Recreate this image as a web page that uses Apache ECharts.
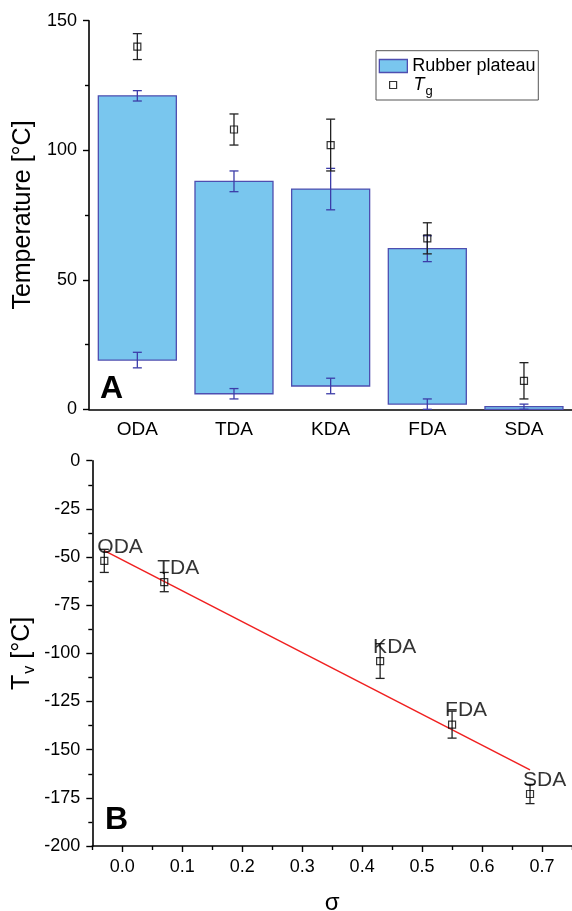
<!DOCTYPE html>
<html>
<head>
<meta charset="utf-8">
<script src="https://cdn.jsdelivr.net/npm/echarts@6/dist/echarts.min.js"></script>
<style>
html,body{margin:0;padding:0;background:#fff;}
#main{width:572px;height:911px;}
</style>
</head>
<body>
<div id="main"></div>
<script>
// ---- Panel A data ----
const categories = ['ODA', 'TDA', 'KDA', 'FDA', 'SDA'];
const plateauLow = [19, 6, 9, 2, 0];
const plateauLowErr = [3, 2, 3, 2, 0];
const plateauHigh = [121, 88, 85, 62, 1];
const plateauHighErr = [2, 4, 8, 5, 1];
const tgValues = [140, 108, 102, 66, 11];
const tgErr = [5, 6, 10, 6, 7];
const yTicksA = [0, 50, 100, 150];

// ---- Panel B data ----
const sigma = [-0.03, 0.07, 0.43, 0.55, 0.68];
const tv = [-52, -63, -104, -137, -173];
const tvErr = [6, 5, 9, 7, 5];
const tvLabels = ['ODA', 'TDA', 'KDA', 'FDA', 'SDA'];
const fitSigma = [-0.03, 0.68];
const fitTv = [-46.7, -160.5];
const xTicksB = [0, 0.1, 0.2, 0.3, 0.4, 0.5, 0.6, 0.7];
const xMinorTicksB = [-0.05, 0.05, 0.15, 0.25, 0.35, 0.45, 0.55, 0.65, 0.75];

const FONT = 'Liberation Sans, Arial, Helvetica, sans-serif';
const BAR_FILL = '#79C6EE';
const BAR_EDGE = '#4e4eb0';
const BAR_ERR = '#3c3ca8';

const chart = echarts.init(document.getElementById('main'), null, {renderer: 'canvas'});

function errRender(color, capW) {
  return function (params, api) {
    const x = api.value(0), v = api.value(1), e = api.value(2);
    if (!e) return null;
    const top = api.coord([x, v + e]);
    const bot = api.coord([x, v - e]);
    const st = {stroke: color, lineWidth: 1.3, fill: null};
    return {
      type: 'group',
      children: [
        {type: 'line', shape: {x1: top[0], y1: top[1], x2: bot[0], y2: bot[1]}, style: st},
        {type: 'line', shape: {x1: top[0] - capW / 2, y1: top[1], x2: top[0] + capW / 2, y2: top[1]}, style: st},
        {type: 'line', shape: {x1: bot[0] - capW / 2, y1: bot[1], x2: bot[0] + capW / 2, y2: bot[1]}, style: st}
      ]
    };
  };
}

const barData = categories.map((c, i) => [i, plateauLow[i], plateauHigh[i]]);
const barErrData = [];
categories.forEach((c, i) => {
  barErrData.push([i, plateauHigh[i], plateauHighErr[i]]);
  barErrData.push([i, plateauLow[i], plateauLowErr[i]]);
});
const tgData = categories.map((c, i) => [i, tgValues[i]]);
const tgErrData = categories.map((c, i) => [i, tgValues[i], tgErr[i]]);

const bData = sigma.map((s, i) => ({value: [s, tv[i]], label: {formatter: tvLabels[i]}}));
const bErrData = sigma.map((s, i) => [s, tv[i], tvErr[i]]);
const fitData = fitSigma.map((s, i) => [s, fitTv[i]]);

const axisLineStyle = {color: '#000', width: 1.6};
const tickStyle = {color: '#000', width: 1.4};
const labelStyle = {color: '#000', fontSize: 18, fontFamily: FONT};

const gridA = {left: 89, top: 20.7, width: 483.3, height: 388.6, outerBoundsMode: 'none', containLabel: false};
const gridB = {left: 92.3, top: 460.7, width: 479.7, height: 385.3, outerBoundsMode: 'none', containLabel: false};

const option = {
  animation: false,
  backgroundColor: '#fff',
  textStyle: {fontFamily: FONT},
  grid: [gridA, gridB, Object.assign({}, gridB)],
  xAxis: [
    {
      type: 'category', gridIndex: 0, data: categories,
      axisLine: {lineStyle: axisLineStyle},
      axisTick: {alignWithLabel: true, length: 7, lineStyle: tickStyle},
      axisLabel: {margin: 11, fontSize: 19, color: '#000', fontFamily: FONT},
      splitLine: {show: false}
    },
    {
      type: 'value', gridIndex: 1, min: -0.05, max: 0.75,
      name: 'σ', nameLocation: 'middle', nameGap: 45, nameMoveOverlap: false,
      nameTextStyle: {fontSize: 24, color: '#000', fontFamily: FONT},
      axisLine: {onZero: false, lineStyle: axisLineStyle},
      axisTick: {length: 6, lineStyle: tickStyle, customValues: xTicksB},
      axisLabel: Object.assign({margin: 12, customValues: xTicksB, formatter: v => v.toFixed(1)}, labelStyle),
      splitLine: {show: false}
    },
    {
      type: 'value', gridIndex: 2, min: -0.05, max: 0.75, position: 'bottom',
      axisLine: {show: false, onZero: false},
      axisTick: {length: 4, lineStyle: tickStyle, customValues: xMinorTicksB},
      axisLabel: {show: false},
      splitLine: {show: false}
    }
  ],
  yAxis: [
    {
      type: 'value', gridIndex: 0, min: 0, max: 150, interval: 50,
      name: 'Temperature [°C]', nameLocation: 'middle', nameGap: 53, nameMoveOverlap: false,
      nameTextStyle: {fontSize: 25, color: '#000', fontFamily: FONT},
      axisLine: {show: true, lineStyle: axisLineStyle},
      axisTick: {show: true, length: 6, lineStyle: tickStyle},
      minorTick: {show: true, splitNumber: 2, length: 4, lineStyle: tickStyle},
      axisLabel: Object.assign({margin: 12}, labelStyle),
      splitLine: {show: false}
    },
    {
      type: 'value', gridIndex: 1, min: -200, max: 0, interval: 25,
      name: '{a|T}{b|v}{a| [°C]}', nameLocation: 'middle', nameGap: 55, nameMoveOverlap: false,
      nameTextStyle: {
        color: '#000', fontFamily: FONT,
        rich: {
          a: {fontSize: 25, color: '#000', fontFamily: FONT},
          b: {fontSize: 16, color: '#000', fontFamily: FONT, padding: [14, 0, 0, 1]}
        }
      },
      axisLine: {show: true, onZero: false, lineStyle: axisLineStyle},
      axisTick: {show: true, length: 6, lineStyle: tickStyle},
      minorTick: {show: true, splitNumber: 2, length: 4, lineStyle: tickStyle},
      axisLabel: Object.assign({margin: 12}, labelStyle),
      splitLine: {show: false}
    },
    {
      type: 'value', gridIndex: 2, min: -200, max: 0, show: false
    }
  ],
  legend: [
    {
      left: 378.7, top: 57, padding: 0, itemWidth: 28, itemHeight: 13, selectedMode: false,
      textStyle: {fontSize: 18, color: '#000', fontFamily: FONT},
      data: [{name: 'Rubber plateau', icon: 'rect', itemStyle: {color: BAR_FILL, borderColor: BAR_EDGE, borderWidth: 1.3}}]
    },
    {
      left: 389, top: 76, padding: 0, itemWidth: 7, itemHeight: 7, selectedMode: false,
      textStyle: {
        color: '#000', fontFamily: FONT, padding: [0, 0, 0, 12],
        rich: {
          t: {fontSize: 18, fontStyle: 'italic', color: '#000', fontFamily: FONT},
          s: {fontSize: 13, color: '#000', fontFamily: FONT, padding: [12, 0, 0, 1]}
        }
      },
      formatter: () => '{t|T}{s|g}',
      data: [{name: 'Tg', icon: 'rect', itemStyle: {color: 'rgba(255,255,255,0)', borderColor: '#000', borderWidth: 1.2}}]
    }
  ],
  graphic: [
    {type: 'rect', shape: {x: 376, y: 50.7, width: 162.3, height: 49.3}, style: {fill: 'none', stroke: '#555', lineWidth: 1}, z: 10},
    {type: 'text', x: 100, y: 389.5, style: {text: 'A', font: 'bold 32px ' + FONT, fill: '#000', verticalAlign: 'middle'}, z: 10},
    {type: 'text', x: 105, y: 820.5, style: {text: 'B', font: 'bold 32px ' + FONT, fill: '#000', verticalAlign: 'middle'}, z: 10}
  ],
  series: [
    {
      name: 'Rubber plateau', type: 'custom', xAxisIndex: 0, yAxisIndex: 0,
      itemStyle: {color: BAR_FILL, borderColor: BAR_EDGE, borderWidth: 1.3},
      encode: {x: 0, y: [1, 2]},
      data: barData,
      renderItem: function (params, api) {
        const i = api.value(0);
        const lo = api.coord([i, api.value(1)]);
        const hi = api.coord([i, api.value(2)]);
        const bw = api.size([1, 0])[0] * 0.807;
        return {
          type: 'rect',
          shape: {x: hi[0] - bw / 2, y: hi[1], width: bw, height: lo[1] - hi[1]},
          style: {fill: BAR_FILL, stroke: BAR_EDGE, lineWidth: 1.3}
        };
      }
    },
    {
      name: 'plateauErr', type: 'custom', xAxisIndex: 0, yAxisIndex: 0, z: 3,
      encode: {x: 0, y: 1},
      data: barErrData,
      renderItem: errRender(BAR_ERR, 9)
    },
    {
      name: 'tgErr', type: 'custom', xAxisIndex: 0, yAxisIndex: 0, z: 3,
      encode: {x: 0, y: 1},
      data: tgErrData,
      renderItem: errRender('#222', 9)
    },
    {
      name: 'Tg', type: 'scatter', xAxisIndex: 0, yAxisIndex: 0, z: 4,
      symbol: 'rect', symbolSize: 7,
      itemStyle: {color: 'rgba(255,255,255,0)', borderColor: '#000', borderWidth: 1.2},
      data: tgData
    },
    {
      name: 'fit', type: 'line', xAxisIndex: 1, yAxisIndex: 1, z: 2,
      showSymbol: false, symbol: 'none',
      lineStyle: {color: '#f02020', width: 1.5},
      data: fitData
    },
    {
      name: 'tvErr', type: 'custom', xAxisIndex: 1, yAxisIndex: 1, z: 3,
      encode: {x: 0, y: 1},
      data: bErrData,
      renderItem: errRender('#222', 9)
    },
    {
      name: 'Tv', type: 'scatter', xAxisIndex: 1, yAxisIndex: 1, z: 4,
      symbol: 'rect', symbolSize: 7,
      itemStyle: {color: 'rgba(255,255,255,0)', borderColor: '#000', borderWidth: 1.2},
      label: {
        show: true, position: 'inside', align: 'left', verticalAlign: 'middle',
        offset: [-7, -14], fontSize: 21, color: '#000', fontFamily: FONT,
        textBorderWidth: 0
      },
      data: bData
    }
  ]
};

chart.setOption(option);
</script>
</body>
</html>
